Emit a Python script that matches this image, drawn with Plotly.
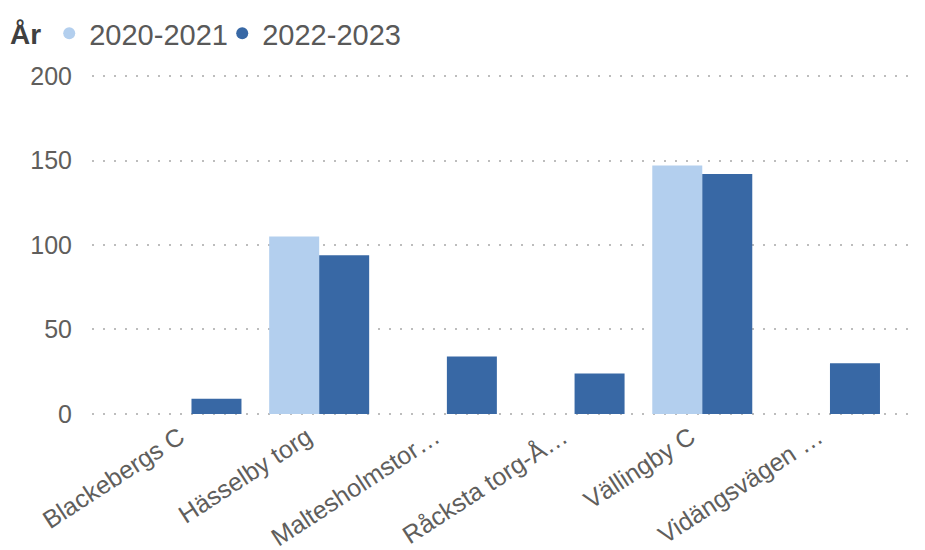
import plotly.graph_objects as go

categories = ["Blackebergs C", "Hässelby torg", "Maltesholmstor…", "Råcksta torg-Å…", "Vällingby C", "Vidängsvägen …"]
series_names = ["2020-2021", "2022-2023"]
values_2020_2021 = [None, 105, None, None, 147, None]
values_2022_2023 = [9, 94, 34, 24, 142, 30]
y_ticks = [0, 50, 100, 150, 200]

light = "#B3CFEE"
dark = "#3868A5"
txt = "#605E5C"
font_family = "Liberation Sans, Arial, sans-serif"

fig = go.Figure()
fig.add_trace(go.Bar(x=categories, y=values_2020_2021, name=series_names[0],
                     marker=dict(color=light, line=dict(width=0)), showlegend=False))
fig.add_trace(go.Bar(x=categories, y=values_2022_2023, name=series_names[1],
                     marker=dict(color=dark, line=dict(width=0)), showlegend=False))
# legend entries with circle markers
for nm, col in zip(series_names, [light, dark]):
    fig.add_trace(go.Scatter(x=[None], y=[None], mode="markers", name=nm,
                             marker=dict(color=col, size=17, symbol="circle")))
# invisible spacer entry so the last legend label is not clipped
fig.add_trace(go.Scatter(x=[None], y=[None], mode="markers", name=" ",
                         marker=dict(color="rgba(0,0,0,0)", size=1), hoverinfo="skip"))

# page body adds an 8px offset; margins compensate for it
fig.update_layout(
    width=925, height=550,
    margin=dict(l=84, r=13, t=66, b=142, autoexpand=False),
    paper_bgcolor="white", plot_bgcolor="white",
    barmode="group", bargap=0.217, bargroupgap=0,
    font=dict(family=font_family, color=txt, size=24),
    legend=dict(orientation="h", x=0.0, xref="container", xanchor="left",
                y=1.0, yref="container", yanchor="top",
                title=dict(text="<b>År</b>", font=dict(size=28, color="#404040")),
                font=dict(size=29, color="#595959"), itemsizing="constant",
                itemwidth=30, tracegroupgap=0, entrywidth=128),
    xaxis=dict(range=[-0.779, 5.705], tickangle=-33, tickfont=dict(size=25, color=txt),
               showgrid=False, showline=False, zeroline=False, ticks="",
               ticklabelshift=-12, ticklabelstandoff=1),
    yaxis=dict(range=[-1.2, 201.2], tickvals=y_ticks, tickfont=dict(size=25, color=txt),
               showgrid=True, gridcolor="#BDBDBD", griddash="2px,9px", gridwidth=2,
               zeroline=False, showline=False, ticks="", ticklabelstandoff=19),
)
fig.write_html("out.html")
